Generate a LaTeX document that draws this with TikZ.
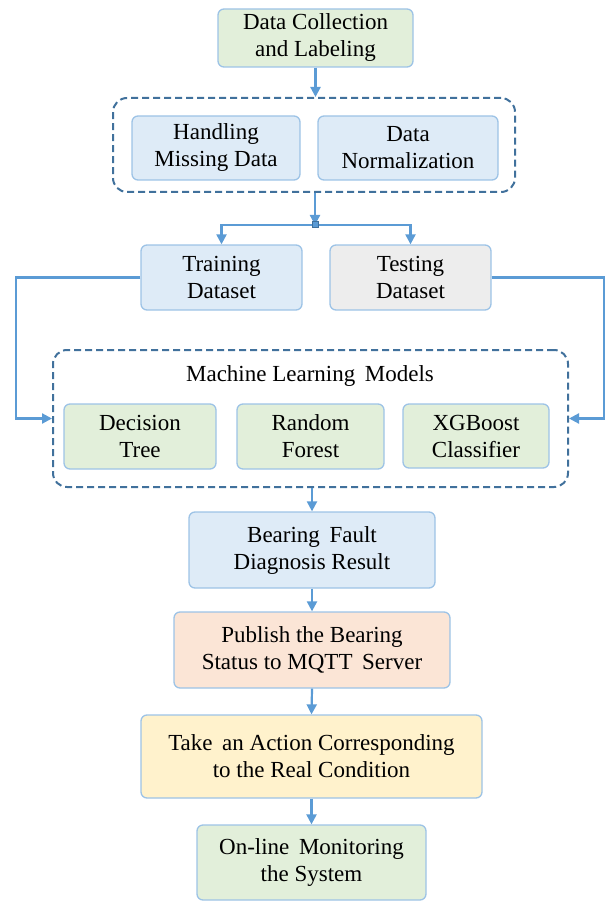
\documentclass[tikz,border=0pt]{standalone}
\usepackage{fontspec}
\setmainfont{Liberation Serif}
\newfontfamily\labelfont{Liberation Serif}
\usetikzlibrary{positioning, arrows.meta}

\definecolor{boxline}{HTML}{9DC3E6}
\definecolor{arrowblue}{HTML}{5B9BD5}
\definecolor{dashblue}{HTML}{41719C}
\definecolor{greenfill}{HTML}{E2EFDA}
\definecolor{bluefill}{HTML}{DEEBF7}
\definecolor{grayfill}{HTML}{EDEDED}
\definecolor{peachfill}{HTML}{FBE5D6}
\definecolor{yellowfill}{HTML}{FFF2CC}

\begin{document}
\begin{tikzpicture}[x=1pt, y=-1pt,
    every node/.style={font=\labelfont\fontsize{23}{27}\selectfont, align=center, inner sep=0pt},
    stage/.style={draw=boxline, line width=1.3pt, rounded corners=6pt},
    groupbox/.style={draw=dashblue, line width=2pt, dash pattern=on 7pt off 4pt, rounded corners=14pt},
    conn/.style={draw=arrowblue, line width=2.2pt, -{Triangle[length=10pt, width=10pt]}}]
    \useasboundingbox (0,0) rectangle (611,901);

    \node[stage, fill=greenfill, minimum width=195pt, minimum height=58pt] (collect) at (315.5,38) {Data Collection\\and Labeling};

    \node[groupbox, minimum width=402pt, minimum height=94pt] (prep) at (314,145) {};
    \node[stage, fill=bluefill, minimum width=168pt, minimum height=64pt] (missing) at (216,148) {Handling\\Missing Data};
    \node[stage, fill=bluefill, minimum width=180pt, minimum height=64pt] (norm) at (408,148) {Data\\Normalization};

    \coordinate (split) at (315,225);
    \node[stage, fill=bluefill, minimum width=161pt, minimum height=65pt] (train) at (221.5,277.5) {Training\\Dataset};
    \node[stage, fill=grayfill, minimum width=161pt, minimum height=65pt] (test) at (410.5,277.5) {Testing\\Dataset};

    \node[groupbox, minimum width=515pt, minimum height=137pt] (ml) at (310.5,418.5) {};
    \node (mltitle) at (310,376) {Machine Learning \,Models};
    \node[stage, fill=greenfill, minimum width=152pt, minimum height=65pt] (tree) at (140,436.5) {Decision\\Tree};
    \node[stage, fill=greenfill, minimum width=147pt, minimum height=65pt] (forest) at (310.5,436.5) {Random\\Forest};
    \node[stage, fill=greenfill, minimum width=146pt, minimum height=64pt] (xgb) at (476,436) {XGBoost\\Classifier};

    \node[stage, fill=bluefill, minimum width=246pt, minimum height=76pt] (result) at (312,550) {Bearing \,Fault\\Diagnosis Result};
    \node[stage, fill=peachfill, minimum width=276pt, minimum height=76pt] (publish) at (312,650) {Publish the Bearing\\Status to MQTT \,Server};
    \node[stage, fill=yellowfill, minimum width=341pt, minimum height=83pt] (action) at (311.5,756.5) {Take \,an Action Corresponding\\to the Real Condition};
    \node[stage, fill=greenfill, minimum width=229pt, minimum height=75pt] (monitor) at (311.5,862.5) {On-line \,Monitoring\\the System};

    % flow
    \draw[conn] (collect.south) -- (collect.south |- prep.north);
    \draw[conn] (prep.south -| split) -- (split);
    \draw[conn] (split) -| (train.north);
    \draw[conn] (split) -| (test.north);
    \node[draw=dashblue, fill=arrowblue, line width=1pt, minimum size=6pt] (dot) at (split) {};

    \coordinate (lbend) at (16,277.5);
    \coordinate (rbend) at (604,277.5);
    \draw[conn] (train.west) -- (lbend) |- (ml.west);
    \draw[conn] (test.east) -- (rbend) |- (ml.east);

    \draw[conn] (ml.south -| result.north) -- (result.north);
    \draw[conn] (result.south) -- (publish.north);
    \draw[conn] (publish.south) -- (action.north);
    \draw[conn] (action.south) -- (monitor.north);
\end{tikzpicture}
\end{document}
